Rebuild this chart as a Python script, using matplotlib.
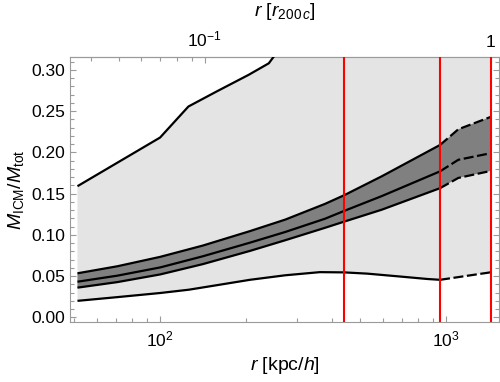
import numpy as np
import matplotlib
matplotlib.use("Agg")
import matplotlib.pyplot as plt
from matplotlib.ticker import FixedLocator, NullFormatter

plt.rcParams["font.family"] = ["Liberation Sans", "DejaVu Sans"]
plt.rcParams["mathtext.fontset"] = "custom"
plt.rcParams["mathtext.rm"] = "Liberation Sans"
plt.rcParams["mathtext.it"] = "Liberation Sans:italic"
plt.rcParams["mathtext.bf"] = "Liberation Sans:bold"

TICKSIZE = 12.5
LABELSIZE = 14
SPINE = "#9a9a9a"

# r200c in kpc/h, and the vertical marker radii
R200 = 1433.0
R_MARKS = [440, 953, 1433]

# inner band (solid part)
r_band = [51.4, 70.8, 100, 141, 206, 274, 377, 440, 596, 953]
band_hi = [0.0534, 0.0619, 0.0733, 0.0870, 0.1045, 0.1185, 0.1375, 0.148, 0.171, 0.209]
band_mid = [0.0432, 0.0505, 0.0605, 0.0740, 0.0905, 0.1035, 0.1195, 0.129, 0.147, 0.177]
band_lo = [0.036, 0.0427, 0.0520, 0.0645, 0.0805, 0.0935, 0.1085, 0.116, 0.1305, 0.1566]

# inner band (dashed extension)
r_band_ext = [953, 1104, 1433]
band_hi_ext = [0.209, 0.228, 0.243]
band_mid_ext = [0.177, 0.191, 0.199]
band_lo_ext = [0.1566, 0.169, 0.1775]

# outer envelope
r_low = [51.4, 70.8, 100, 126, 158, 206, 274, 362, 440, 530, 690, 860, 953]
env_low = [0.020, 0.0245, 0.0295, 0.0335, 0.039, 0.0455, 0.051, 0.0548, 0.0545,
           0.053, 0.0495, 0.0465, 0.0455]
r_low_ext = [953, 1433]
env_low_ext = [0.0455, 0.0546]

r_up = [51.4, 100, 125.6, 158, 204, 240, 274, 377, 596, 953, 1433]
env_up = [0.159, 0.218, 0.2556, 0.274, 0.294, 0.308, 0.335, 0.42, 0.48, 0.55, 0.62]

fig = plt.figure(figsize=(5.0, 3.82), dpi=100)
ax = fig.add_axes([0.14, 0.1563, 0.858, 0.6953])
ax.set_xscale("log")

# light envelope
xs = r_low + r_low_ext[1:] + r_up[::-1]
ys = env_low + env_low_ext[1:] + env_up[::-1]
ax.fill(xs, ys, color="#e4e4e4", lw=0, zorder=1)

# dark band
xb = r_band + r_band_ext[1:]
yb = band_hi + band_hi_ext[1:] + (band_lo + band_lo_ext[1:])[::-1]
ax.fill(xb + xb[::-1], yb, color="#808080", lw=0, zorder=2)

lw = 1.6
for r, y in [(r_band, band_hi), (r_band, band_mid), (r_band, band_lo),
             (r_low, env_low), (r_up, env_up)]:
    ax.plot(r, y, color="black", lw=lw, zorder=3, solid_capstyle="butt")
for r, y in [(r_band_ext, band_hi_ext), (r_band_ext, band_mid_ext),
             (r_band_ext, band_lo_ext), (r_low_ext, env_low_ext)]:
    ax.plot(r, y, color="black", lw=lw, ls=(0, (4.5, 1.6)), zorder=3)

for r in R_MARKS:
    ax.axvline(r, color="red", lw=1.5, zorder=4)

ax.set_xlim(48.4, 1532)
ax.set_ylim(-0.006, 0.316)

ax.set_xticks([100, 1000])
ax.set_xticklabels([r"$10^2$", r"$10^3$"])
ax.xaxis.set_minor_locator(FixedLocator([50, 60, 70, 80, 90, 200, 300, 400, 500,
                                         600, 700, 800, 900]))
ax.xaxis.set_minor_formatter(NullFormatter())
yt = [0.0, 0.05, 0.10, 0.15, 0.20, 0.25, 0.30]
ax.set_yticks(yt)
ax.set_yticklabels(["%.2f" % v for v in yt])
ax.yaxis.set_minor_locator(FixedLocator(np.arange(0, 0.316, 0.01)))

ax.tick_params(which="both", direction="in", color=SPINE, labelsize=TICKSIZE,
               right=True, top=False)
ax.tick_params(which="major", length=4.5, width=0.8)
ax.tick_params(which="minor", length=3, width=0.8)
ax.tick_params(axis="x", pad=5)
for s in ax.spines.values():
    s.set_color(SPINE)
    s.set_linewidth(0.8)

sec = ax.secondary_xaxis("top", functions=(lambda x: x / R200, lambda x: x * R200))
sec.set_xticks([0.1, 1])
sec.set_xticklabels([r"$10^{-1}$", "1"])
sec.xaxis.set_minor_locator(FixedLocator([0.04, 0.05, 0.06, 0.07, 0.08, 0.09,
                                          0.2, 0.3, 0.4, 0.5, 0.6, 0.7, 0.8, 0.9]))
sec.xaxis.set_minor_formatter(NullFormatter())
sec.tick_params(which="both", direction="in", color=SPINE, labelsize=TICKSIZE)
sec.tick_params(which="major", length=4.5, width=0.8, pad=5)
sec.tick_params(which="minor", length=3, width=0.8)
sec.spines["top"].set_color(SPINE)
sec.spines["top"].set_linewidth(0.8)

ax.set_xlabel(r"$r$ [kpc/$h$]", fontsize=LABELSIZE, labelpad=4)
ax.set_ylabel(r"$M_{\rm ICM}/M_{\rm tot}$", fontsize=LABELSIZE, labelpad=4)
sec.set_xlabel(r"$r$ [$r_{200\,c}$]", fontsize=LABELSIZE, labelpad=10)

fig.savefig("out.png", dpi=100)
